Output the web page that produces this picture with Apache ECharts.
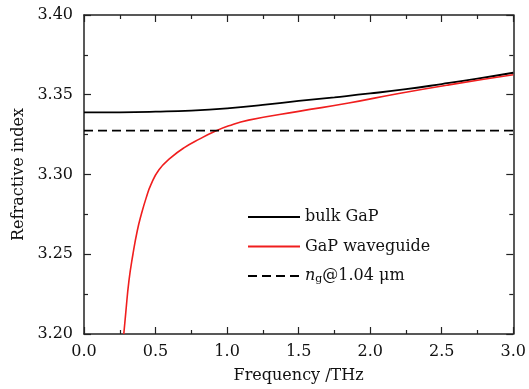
<!DOCTYPE html>
<html>
<head>
<meta charset="utf-8">
<script src="https://cdn.jsdelivr.net/npm/echarts@6/dist/echarts.min.js"></script>
<style>
  html, body { margin: 0; padding: 0; background: #fff; }
  #main { width: 529px; height: 389px; }
</style>
</head>
<body>
<div id="main"></div>
<script>
// [frequency THz, refractive index]
const bulkGaP = [
  [0.0, 3.3389], [0.25, 3.3390], [0.5, 3.3394], [0.75, 3.3401], [1.0, 3.3415],
  [1.25, 3.3436], [1.5, 3.3461], [1.75, 3.3484], [2.0, 3.3508], [2.25, 3.3535],
  [2.5, 3.3567], [2.75, 3.3601], [3.0, 3.3638]
];
const gapWaveguide = [
  [0.278, 3.200], [0.291, 3.2125], [0.314, 3.2333], [0.342, 3.250], [0.372, 3.2646],
  [0.402, 3.2755], [0.435, 3.2855], [0.467, 3.2935], [0.524, 3.3030], [0.605, 3.3104],
  [0.698, 3.3167], [0.813, 3.3225], [0.905, 3.3266], [1.012, 3.3305], [1.15, 3.3341],
  [1.5, 3.3396], [1.85, 3.3448], [2.2, 3.3508], [2.55, 3.3562], [3.0, 3.3625]
];
const ngLine = [[0.0, 3.3275], [3.0, 3.3275]];

const seriesNames = ['bulk GaP', 'GaP waveguide', 'ng'];

const font = 'DejaVu Serif';
const axisColor = '#222';

const chart = echarts.init(document.getElementById('main'));

const xCommon = {
  type: 'value', min: 0, max: 3, interval: 0.5,
  axisLine: { onZero: false, lineStyle: { color: axisColor, width: 1.5 } },
  axisTick: { inside: true, length: 7, lineStyle: { color: axisColor, width: 1.2 } },
  minorTick: { show: true, splitNumber: 2, length: 4, lineStyle: { color: axisColor, width: 1.2 } },
  splitLine: { show: false }
};
const yCommon = {
  type: 'value', min: 3.2, max: 3.4, interval: 0.05,
  axisLine: { onZero: false, lineStyle: { color: axisColor, width: 1.5 } },
  axisTick: { inside: true, length: 7, lineStyle: { color: axisColor, width: 1.2 } },
  minorTick: { show: true, splitNumber: 2, length: 4, lineStyle: { color: axisColor, width: 1.2 } },
  splitLine: { show: false }
};

const option = {
  animation: false,
  grid: { left: 84, right: 12, top: 15, bottom: 54 },
  legend: {
    orient: 'vertical', left: 242, top: 204,
    itemWidth: 52, itemHeight: 14, itemGap: 13.5,
    data: seriesNames,
    itemStyle: { opacity: 0 },
    textStyle: {
      fontFamily: font, fontSize: 16, color: '#111',
      rich: {
        i: { fontFamily: font, fontSize: 16, fontStyle: 'italic', color: '#111' },
        s: { fontFamily: font, fontSize: 11, color: '#111', verticalAlign: 'bottom', padding: [6, 0, 0, 0] },
        t: { fontFamily: font, fontSize: 16, color: '#111' }
      }
    },
    formatter: function (name) {
      if (name === 'ng') return '{i|n}{s|g}{t|@1.04 μm}';
      return name;
    }
  },
  xAxis: [
    Object.assign({}, xCommon, {
      position: 'bottom',
      name: 'Frequency /THz', nameLocation: 'middle', nameGap: 34,
      nameTextStyle: { fontFamily: font, fontSize: 16, color: '#111' },
      axisLabel: {
        fontFamily: font, fontSize: 16, color: '#111', margin: 10,
        formatter: v => v.toFixed(1)
      }
    }),
    Object.assign({}, xCommon, { position: 'top', axisLabel: { show: false } })
  ],
  yAxis: [
    Object.assign({}, yCommon, {
      position: 'left',
      name: 'Refractive index', nameLocation: 'middle', nameGap: 57,
      nameTextStyle: { fontFamily: font, fontSize: 16, color: '#111' },
      axisLabel: {
        fontFamily: font, fontSize: 16, color: '#111', margin: 11,
        formatter: v => v.toFixed(2)
      }
    }),
    Object.assign({}, yCommon, { position: 'right', axisLabel: { show: false } })
  ],
  series: [
    {
      name: 'bulk GaP', type: 'line', data: bulkGaP, smooth: true,
      symbol: 'none', color: '#000', lineStyle: { color: '#000', width: 1.8 }
    },
    {
      name: 'GaP waveguide', type: 'line', data: gapWaveguide, smooth: true,
      symbol: 'none', color: '#f01e1e', lineStyle: { color: '#f01e1e', width: 1.6 }
    },
    {
      name: 'ng', type: 'line', data: ngLine,
      symbol: 'none', color: '#000', lineStyle: { color: '#000', width: 1.8, type: [9, 5] }
    }
  ]
};

chart.setOption(option);
</script>
</body>
</html>
